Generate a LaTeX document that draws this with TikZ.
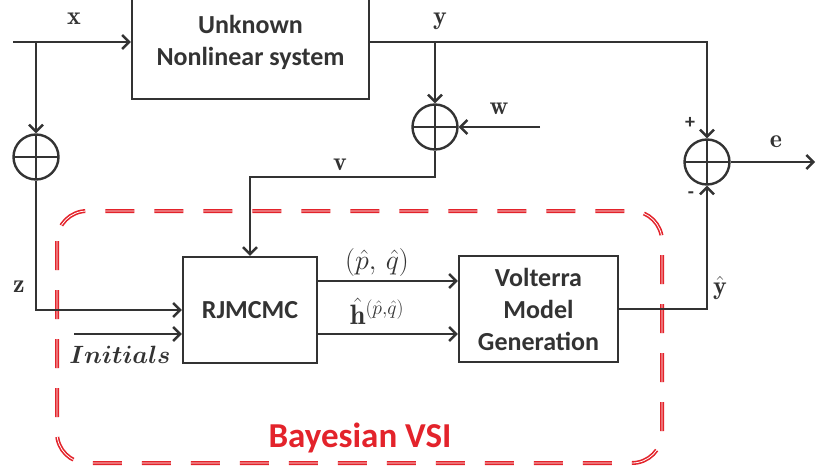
\RequirePackage{fix-cm}
\documentclass[tikz,border=0pt]{standalone}
\usepackage{amsmath,amssymb}
\usepackage{fontspec}
\newfontfamily\calibri{Carlito}
\usepackage{xcolor}
\usetikzlibrary{positioning,arrows.meta}
\definecolor{ink}{HTML}{333333}
\definecolor{vsired}{HTML}{E3232B}

\begin{document}
\begin{tikzpicture}[
  x=1pt, y=-1pt,
  every node/.style={text=ink},
  blk/.style={draw=ink, line width=2.4pt, align=center, inner sep=0pt, font=\calibri\bfseries\fontsize{26}{32}\selectfont},
  sum/.style={draw=ink, circle, line width=2.4pt, minimum size=45pt, inner sep=0pt,
    path picture={\draw[ink, line width=2.4pt] (path picture bounding box.north) -- (path picture bounding box.south)
      (path picture bounding box.west) -- (path picture bounding box.east);}},
  sig/.style={draw=ink, line width=2.4pt, -{Straight Barb[length=7pt,width=14pt]}},
  lbl/.style={inner sep=0pt, font=\fontsize{26}{30}\selectfont},
  sml/.style={inner sep=0pt, font=\fontsize{28}{32}\selectfont},
  sgn/.style={inner sep=0pt, font=\calibri\bfseries\fontsize{20}{24}\selectfont},
  bvsi/.style={draw=vsired, line width=1.6pt, double=white, double distance=0.8pt, dash pattern=on 29pt off 20pt, rounded corners=30pt}
]
\useasboundingbox (0,0) rectangle (817,468);
\clip (0,0) rectangle (817,468);

\draw[bvsi] (57,211) rectangle (662,463);
\node[text=vsired, inner sep=0pt, font=\calibri\bfseries\fontsize{35}{40}\selectfont] (bayes) at (360,438) {Bayesian VSI};

\node[blk, minimum width=237pt, minimum height=114pt] (sys) at (250.5,42) {Unknown\\Nonlinear system};
\node[blk, minimum width=134pt, minimum height=106pt] (rj) at (250,310) {RJMCMC};
\node[blk, minimum width=159pt, minimum height=106pt] (volt) at (538.5,309) {Volterra\\Model\\Generation};

\node[sum] (sum1) at (36,157) {};
\node[sum] (sum2) at (435,127) {};
\node[sum] (sum3) at (707,162) {};

\coordinate (xin) at (13,42);
\coordinate (xb) at (36,42);
\coordinate (yb) at (435,42);
\coordinate (win) at (540,127);
\coordinate (vc) at (250,177);
\coordinate (ini) at (74,334);
\coordinate (eout) at (815,162);
\coordinate (pqo) at ([yshift=29pt]rj.east);
\coordinate (ho) at ([yshift=-24pt]rj.east);

\draw[sig] (xin) -- (sys);
\draw[sig] (xb) -- (sum1);
\draw[sig] (sys.east) -| (sum3);
\draw[sig] (yb) -- (sum2);
\draw[sig] (win) -- (sum2);
\draw[sig] (sum2) |- (vc) -- (rj.north);
\draw[sig] (sum1) |- (rj.west);
\draw[sig] (ini) -- (rj.west |- ini);
\draw[sig] (pqo) -- (volt.west |- pqo);
\draw[sig] (ho) -- (volt.west |- ho);
\draw[sig] (volt.east) -| (sum3);
\draw[sig] (sum3) -- (eout);

\node[lbl] (xl) at (74,19) {$\mathbf{x}$};
\node[lbl] (yl) at (440,21) {$\mathbf{y}$};
\node[lbl] (wl) at (499,109) {$\mathbf{w}$};
\node[lbl] (vl) at (340,165) {$\mathbf{v}$};
\node[lbl] (zl) at (19,287) {$\mathbf{z}$};
\node[lbl] (el) at (776,142) {$\mathbf{e}$};
\node[lbl] (yhl) at (720,288) {$\hat{\mathbf{y}}$};
\node[sgn] (pl) at (690,123) {+};
\node[sgn] (ml) at (691,195) {-};
\node[sml] (pql) at (377,263) {$(\hat{p},\,\hat{q})$};
\node[sml] (hl) at (377,311) {$\hat{\mathbf{h}}^{(\hat{p},\hat{q})}$};
\node[lbl, font=\fontsize{25}{30}\selectfont] (inl) at (120,355) {$\boldsymbol{Initials}$};
\end{tikzpicture}
\end{document}
